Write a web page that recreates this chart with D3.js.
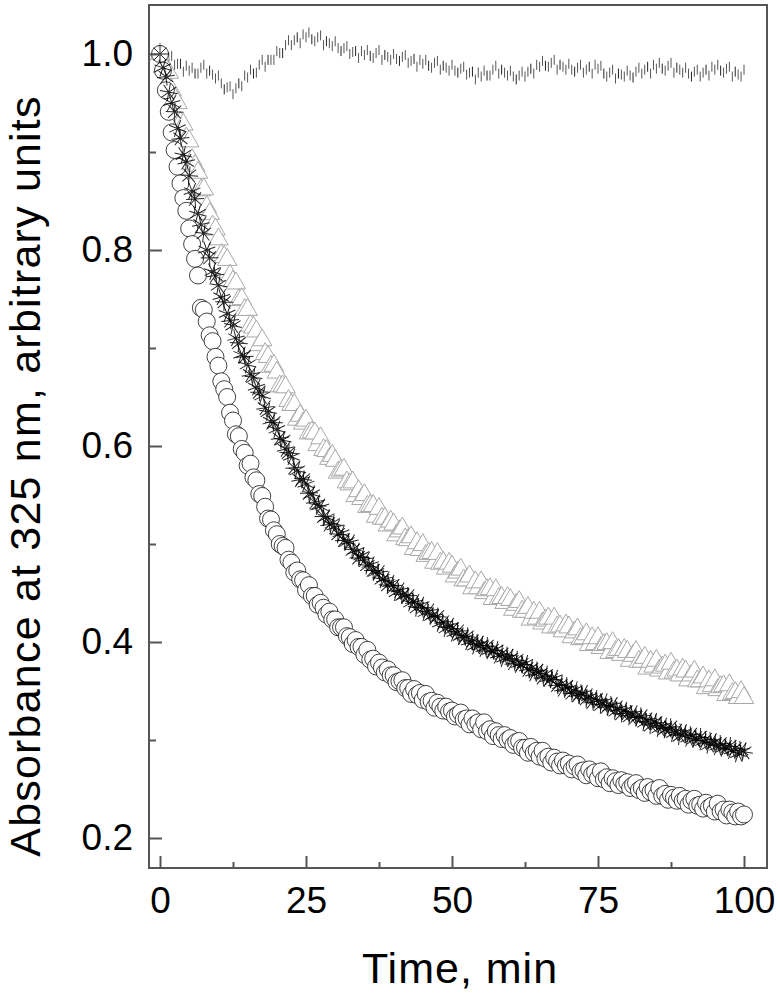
<!DOCTYPE html>
<html>
<head>
<meta charset="utf-8">
<script src="https://cdn.jsdelivr.net/npm/d3@7"></script>
<style>
  body { margin: 0; background: #fff; }
  svg { display: block; font-family: "Liberation Sans", Arial, sans-serif; }
</style>
</head>
<body>
<svg></svg>
<script>
// sampling step of the recordings, min
let sampleStep = 0.5;

// axis ticks
let xMajorTicks = [0, 25, 50, 75, 100];
let xMinorTicks = [12.5, 37.5, 62.5, 87.5];
let yMajorTicks = [0.2, 0.4, 0.6, 0.8, 1.0];
let yMinorTicks = [0.3, 0.5, 0.7, 0.9];

// control (vertical dashes near 1.0)
let controlValues = [
  1.000, 0.997, 0.993, 0.997, 0.998, 0.989, 0.990, 0.990, 0.982, 0.988,
  0.983, 0.986, 0.980, 0.980, 0.986, 0.989, 0.980, 0.983, 0.979, 0.975,
  0.978, 0.970, 0.964, 0.966, 0.967, 0.959, 0.965, 0.970, 0.967, 0.978,
  0.976, 0.984, 0.980, 0.981, 0.989, 0.994, 0.987, 0.994, 0.994, 0.994,
  1.003, 1.001, 1.001, 1.009, 1.014, 1.009, 1.014, 1.017, 1.011, 1.020,
  1.017, 1.022, 1.015, 1.013, 1.017, 1.019, 1.009, 1.013, 1.011, 1.008,
  1.013, 1.006, 1.003, 1.006, 1.008, 1.000, 1.002, 1.003, 0.996, 1.003,
  0.999, 1.004, 0.998, 0.996, 1.001, 1.004, 0.994, 0.999, 0.997, 0.994,
  1.000, 0.995, 0.993, 0.997, 0.999, 0.991, 0.993, 0.995, 0.987, 0.994,
  0.990, 0.994, 0.988, 0.986, 0.991, 0.993, 0.984, 0.988, 0.986, 0.983,
  0.989, 0.983, 0.981, 0.985, 0.987, 0.979, 0.981, 0.982, 0.974, 0.981,
  0.977, 0.983, 0.978, 0.978, 0.984, 0.988, 0.980, 0.984, 0.981, 0.978,
  0.983, 0.977, 0.974, 0.978, 0.982, 0.977, 0.982, 0.985, 0.980, 0.989,
  0.987, 0.993, 0.988, 0.987, 0.991, 0.994, 0.984, 0.989, 0.987, 0.984,
  0.990, 0.984, 0.982, 0.986, 0.989, 0.981, 0.984, 0.987, 0.980, 0.989,
  0.985, 0.988, 0.980, 0.977, 0.981, 0.984, 0.975, 0.980, 0.979, 0.977,
  0.983, 0.978, 0.976, 0.982, 0.986, 0.980, 0.984, 0.987, 0.980, 0.989,
  0.985, 0.991, 0.985, 0.983, 0.988, 0.991, 0.981, 0.986, 0.984, 0.981,
  0.986, 0.980, 0.977, 0.982, 0.984, 0.977, 0.981, 0.984, 0.978, 0.987,
  0.984, 0.989, 0.983, 0.981, 0.985, 0.987, 0.977, 0.982, 0.979, 0.977,
  0.984
];

// open triangles (light grey)
let triangleValues = [
  1.000, 0.987, 0.985, 0.981, 0.963, 0.955, 0.950, 0.930, 0.928, 0.914,
  0.911, 0.892, 0.886, 0.879, 0.861, 0.862, 0.844, 0.837, 0.824, 0.821,
  0.811, 0.795, 0.793, 0.790, 0.774, 0.768, 0.766, 0.749, 0.750, 0.739,
  0.739, 0.723, 0.721, 0.717, 0.703, 0.708, 0.694, 0.691, 0.681, 0.682,
  0.675, 0.661, 0.661, 0.660, 0.646, 0.642, 0.642, 0.627, 0.631, 0.623,
  0.626, 0.613, 0.614, 0.613, 0.601, 0.608, 0.596, 0.595, 0.587, 0.590,
  0.585, 0.573, 0.575, 0.576, 0.563, 0.561, 0.563, 0.549, 0.554, 0.546,
  0.550, 0.538, 0.539, 0.539, 0.528, 0.536, 0.526, 0.526, 0.519, 0.523,
  0.520, 0.509, 0.513, 0.516, 0.505, 0.504, 0.507, 0.495, 0.501, 0.494,
  0.499, 0.488, 0.490, 0.491, 0.481, 0.490, 0.480, 0.481, 0.475, 0.480,
  0.477, 0.467, 0.471, 0.474, 0.463, 0.463, 0.467, 0.455, 0.461, 0.455,
  0.461, 0.450, 0.453, 0.454, 0.444, 0.453, 0.444, 0.445, 0.440, 0.445,
  0.443, 0.433, 0.438, 0.441, 0.431, 0.431, 0.435, 0.423, 0.430, 0.424,
  0.430, 0.419, 0.422, 0.424, 0.415, 0.424, 0.415, 0.416, 0.411, 0.417,
  0.415, 0.405, 0.410, 0.413, 0.403, 0.404, 0.408, 0.397, 0.404, 0.398,
  0.404, 0.394, 0.397, 0.398, 0.389, 0.399, 0.390, 0.392, 0.387, 0.392,
  0.390, 0.381, 0.386, 0.390, 0.380, 0.380, 0.384, 0.373, 0.380, 0.375,
  0.381, 0.371, 0.374, 0.376, 0.368, 0.378, 0.369, 0.371, 0.366, 0.372,
  0.370, 0.361, 0.366, 0.370, 0.360, 0.360, 0.364, 0.353, 0.360, 0.355,
  0.361, 0.351, 0.354, 0.355, 0.346, 0.356, 0.347, 0.348, 0.343, 0.349,
  0.343
];

// asterisks (black)
let starValues = [
  1.000, 0.986, 0.977, 0.961, 0.950, 0.941, 0.924, 0.914, 0.897, 0.890,
  0.876, 0.860, 0.852, 0.837, 0.826, 0.817, 0.800, 0.792, 0.778, 0.774,
  0.764, 0.752, 0.747, 0.735, 0.728, 0.723, 0.710, 0.705, 0.693, 0.691,
  0.683, 0.673, 0.670, 0.660, 0.655, 0.651, 0.639, 0.635, 0.625, 0.624,
  0.617, 0.608, 0.606, 0.597, 0.593, 0.589, 0.578, 0.575, 0.566, 0.566,
  0.561, 0.552, 0.551, 0.543, 0.540, 0.538, 0.528, 0.527, 0.520, 0.521,
  0.517, 0.510, 0.511, 0.504, 0.502, 0.502, 0.494, 0.493, 0.486, 0.488,
  0.484, 0.478, 0.479, 0.473, 0.471, 0.471, 0.464, 0.464, 0.458, 0.460,
  0.457, 0.451, 0.453, 0.448, 0.447, 0.447, 0.440, 0.441, 0.435, 0.438,
  0.435, 0.430, 0.432, 0.427, 0.426, 0.426, 0.419, 0.420, 0.414, 0.417,
  0.414, 0.409, 0.411, 0.406, 0.405, 0.406, 0.400, 0.401, 0.396, 0.399,
  0.397, 0.393, 0.396, 0.391, 0.391, 0.392, 0.386, 0.388, 0.383, 0.386,
  0.384, 0.379, 0.382, 0.377, 0.377, 0.378, 0.372, 0.373, 0.368, 0.371,
  0.369, 0.364, 0.367, 0.362, 0.362, 0.363, 0.356, 0.357, 0.352, 0.355,
  0.353, 0.348, 0.351, 0.346, 0.346, 0.348, 0.342, 0.344, 0.339, 0.342,
  0.340, 0.336, 0.339, 0.334, 0.334, 0.336, 0.330, 0.332, 0.327, 0.330,
  0.328, 0.324, 0.327, 0.323, 0.323, 0.324, 0.318, 0.320, 0.315, 0.319,
  0.317, 0.312, 0.315, 0.311, 0.311, 0.313, 0.307, 0.309, 0.304, 0.308,
  0.306, 0.302, 0.305, 0.301, 0.301, 0.303, 0.298, 0.300, 0.295, 0.299,
  0.297, 0.293, 0.296, 0.292, 0.292, 0.294, 0.289, 0.291, 0.286, 0.290,
  0.288
];

// open circles (black)
let circleValues = [
  1.000, 0.983, 0.963, 0.941, 0.920, 0.902, 0.885, 0.868, 0.853, 0.840,
  0.822, 0.806, 0.791, 0.774, 0.741, 0.739, 0.727, 0.713, 0.707, 0.691,
  0.682, 0.666, 0.658, 0.650, 0.634, 0.626, 0.612, 0.610, 0.597, 0.593,
  0.580, 0.582, 0.568, 0.565, 0.551, 0.549, 0.538, 0.526, 0.525, 0.514,
  0.510, 0.500, 0.498, 0.496, 0.484, 0.481, 0.471, 0.473, 0.464, 0.463,
  0.453, 0.458, 0.447, 0.447, 0.438, 0.440, 0.435, 0.428, 0.431, 0.423,
  0.423, 0.415, 0.415, 0.415, 0.406, 0.405, 0.398, 0.402, 0.395, 0.395,
  0.387, 0.392, 0.382, 0.383, 0.375, 0.379, 0.374, 0.369, 0.372, 0.366,
  0.366, 0.359, 0.360, 0.361, 0.353, 0.353, 0.347, 0.352, 0.346, 0.348,
  0.341, 0.347, 0.339, 0.340, 0.333, 0.338, 0.334, 0.330, 0.334, 0.329,
  0.330, 0.324, 0.326, 0.328, 0.321, 0.322, 0.316, 0.322, 0.316, 0.318,
  0.311, 0.318, 0.309, 0.311, 0.304, 0.309, 0.305, 0.301, 0.305, 0.300,
  0.302, 0.295, 0.298, 0.299, 0.292, 0.292, 0.287, 0.293, 0.287, 0.289,
  0.283, 0.289, 0.281, 0.283, 0.277, 0.282, 0.278, 0.274, 0.279, 0.274,
  0.276, 0.270, 0.273, 0.275, 0.268, 0.269, 0.264, 0.270, 0.265, 0.267,
  0.261, 0.268, 0.260, 0.262, 0.256, 0.261, 0.258, 0.254, 0.259, 0.255,
  0.257, 0.251, 0.254, 0.256, 0.249, 0.251, 0.246, 0.252, 0.247, 0.249,
  0.243, 0.251, 0.243, 0.245, 0.239, 0.244, 0.241, 0.238, 0.243, 0.238,
  0.240, 0.234, 0.238, 0.240, 0.233, 0.234, 0.230, 0.236, 0.231, 0.233,
  0.227, 0.235, 0.227, 0.229, 0.223, 0.229, 0.226, 0.222, 0.227, 0.222,
  0.224
];

// canvas
let width = 780;
let height = 998;

let margin = {
  top: 5,
  left: 149,
  right: 13,
  bottom: 130
};

let innerWidth = width - margin.left - margin.right;
let innerHeight = height - margin.top - margin.bottom;

let frameColor = '#555';

let svg = d3.select('svg')
  .attr('width', width)
  .attr('height', height);

let g = svg.append('g')
  .attr('transform', 'translate(' + margin.left + ',' + margin.top + ')');

// scales
let x = d3.scaleLinear()
  .domain([0, 100])
  .range([11, 595]);

let y = d3.scaleLinear()
  .domain([0.2, 1.0])
  .range([833, 49]);

// turn a value list into points
let toPoints = values => values.map((v, i) => ({ t: i * sampleStep, v: v }));

// clip markers to the frame
g.append('clipPath')
  .attr('id', 'plot-clip')
  .append('rect')
  .attr('width', innerWidth)
  .attr('height', innerHeight);

let plot = g.append('g').attr('clip-path', 'url(#plot-clip)');

// control: short vertical dashes
plot.append('g')
  .selectAll('path')
  .data(toPoints(controlValues))
  .enter()
  .append('path')
  .attr('transform', d => 'translate(' + x(d.t) + ',' + y(d.v) + ')')
  .attr('d', 'M0,-5V5')
  .style('stroke', (d, i) => i % 5 === 2 ? '#222' : '#555')
  .style('stroke-width', 1);

// triangles
let triangle = d3.symbol().type(d3.symbolTriangle).size(165);

plot.append('g')
  .selectAll('path')
  .data(toPoints(triangleValues))
  .enter()
  .append('path')
  .attr('transform', d => 'translate(' + x(d.t) + ',' + y(d.v) + ')')
  .attr('d', triangle)
  .style('fill', '#fff')
  .style('stroke', '#a8a8a8')
  .style('stroke-width', 1);

// circles
plot.append('g')
  .selectAll('circle')
  .data(toPoints(circleValues))
  .enter()
  .append('circle')
  .attr('cx', d => x(d.t))
  .attr('cy', d => y(d.v))
  .attr('r', 8.5)
  .style('fill', '#fff')
  .style('stroke', '#111')
  .style('stroke-width', 0.8);

// asterisks with eight arms
let starPath = r => {
  let a = r * Math.SQRT1_2;
  return 'M' + -r + ',0H' + r + 'M0,' + -r + 'V' + r +
    'M' + -a + ',' + -a + 'L' + a + ',' + a +
    'M' + -a + ',' + a + 'L' + a + ',' + -a;
};

plot.append('g')
  .selectAll('path')
  .data(toPoints(starValues))
  .enter()
  .append('path')
  .attr('transform', d => 'translate(' + x(d.t) + ',' + y(d.v) + ') rotate(' + (d.t * 37 % 45) + ')')
  .attr('d', starPath(9))
  .style('fill', 'none')
  .style('stroke', '#000')
  .style('stroke-opacity', 0.85)
  .style('stroke-width', 1);

// frame
g.append('rect')
  .attr('width', innerWidth)
  .attr('height', innerHeight)
  .style('fill', 'none')
  .style('stroke', frameColor)
  .style('stroke-width', 2);

// axes with ticks pointing inward
let styleAxis = sel => {
  sel.select('.domain').remove();
  sel.selectAll('line').style('stroke', frameColor).style('stroke-width', 2);
  sel.selectAll('text')
    .style('font-family', '"Liberation Sans", Arial, sans-serif')
    .style('font-size', '37px')
    .style('fill', '#000');
};

g.append('g')
  .attr('transform', 'translate(0,' + innerHeight + ')')
  .call(d3.axisBottom(x).tickValues(xMajorTicks).tickSizeInner(-12).tickSizeOuter(0)
    .tickPadding(19).tickFormat(d3.format('d')))
  .call(styleAxis);

g.append('g')
  .attr('transform', 'translate(0,' + innerHeight + ')')
  .call(d3.axisBottom(x).tickValues(xMinorTicks).tickSizeInner(-6).tickSizeOuter(0))
  .call(styleAxis)
  .call(sel => sel.selectAll('text').remove());

g.append('g')
  .call(d3.axisLeft(y).tickValues(yMajorTicks).tickSizeInner(-13).tickSizeOuter(0)
    .tickPadding(16).tickFormat(d3.format('.1f')))
  .call(styleAxis);

g.append('g')
  .call(d3.axisLeft(y).tickValues(yMinorTicks).tickSizeInner(-7).tickSizeOuter(0))
  .call(styleAxis)
  .call(sel => sel.selectAll('text').remove());

// axis titles
svg.append('text')
  .attr('x', 460)
  .attr('y', 983)
  .attr('text-anchor', 'middle')
  .style('font-size', '43px')
  .style('letter-spacing', '1px')
  .text('Time, min');

svg.append('text')
  .attr('transform', 'translate(40,476) rotate(-90)')
  .attr('text-anchor', 'middle')
  .style('font-size', '43px')
  .style('letter-spacing', '1.2px')
  .text('Absorbance at 325 nm, arbitrary units');
</script>
</body>
</html>
